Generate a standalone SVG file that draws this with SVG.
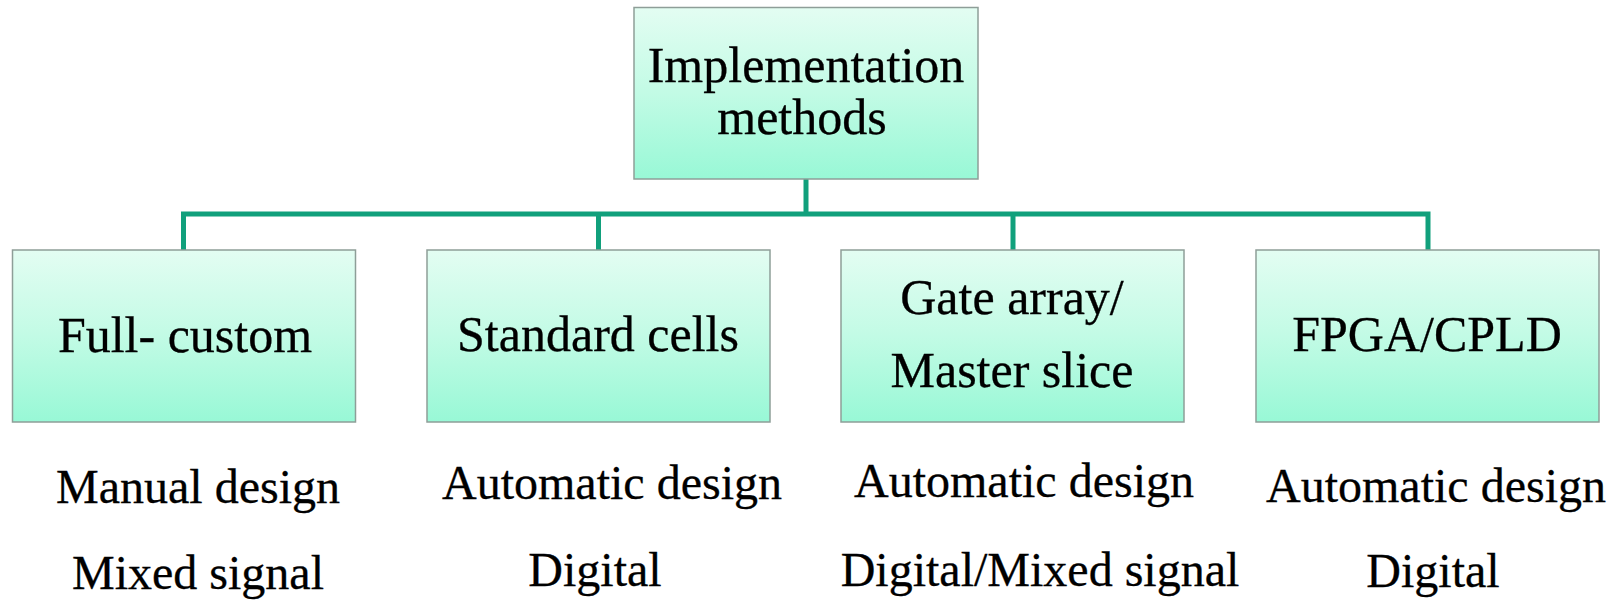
<svg xmlns="http://www.w3.org/2000/svg" width="1617" height="601" viewBox="0 0 1617 601">
  <defs>
    <linearGradient id="boxFill" x1="0" y1="0" x2="0" y2="1">
      <stop offset="0" stop-color="#e3fdf2"/>
      <stop offset="0.5" stop-color="#c2fbe5"/>
      <stop offset="1" stop-color="#98f8d6"/>
    </linearGradient>
  </defs>
  <style>
    .box { fill: url(#boxFill); stroke: #8e9e98; stroke-width: 1.5; }
    text { font-family: 'Liberation Serif', 'Times New Roman', Times, 'DejaVu Serif', serif; fill: #000; stroke: #000; stroke-width: 0.3; text-anchor: middle; }
    .label { font-size: 50px; }
    .note { font-size: 48px; }
    .link { fill: none; stroke: #11a07c; stroke-width: 5; stroke-linecap: butt; stroke-linejoin: miter; }
  </style>
  <rect width="1617" height="601" fill="#ffffff"/>

  <!-- tree connectors -->
  <g id="connectors">
    <path class="link" d="M806 179 V214"/>
    <path class="link" d="M183.5 250 V214 H1428 V250"/>
    <path class="link" d="M598.5 214 V250"/>
    <path class="link" d="M1013 214 V250"/>
  </g>

  <!-- root -->
  <g id="node-root">
    <rect class="box" x="634" y="7.5" width="344" height="171.5"/>
    <text class="label" x="806" y="82">Implementation</text>
    <text class="label" x="802" y="134">methods</text>
  </g>

  <!-- methods -->
  <g id="node-full-custom">
    <rect class="box" x="12.5" y="250" width="343" height="172"/>
    <text class="label" x="185" y="352">Full- custom</text>
    <text class="note" x="198" y="503">Manual design</text>
    <text class="note" x="198" y="589">Mixed signal</text>
  </g>

  <g id="node-standard-cells">
    <rect class="box" x="427" y="250" width="343" height="172"/>
    <text class="label" x="598" y="351">Standard cells</text>
    <text class="note" x="612" y="499">Automatic design</text>
    <text class="note" x="595" y="586">Digital</text>
  </g>

  <g id="node-gate-array">
    <rect class="box" x="841" y="250" width="343" height="172"/>
    <text class="label" x="1012" y="314">Gate array/</text>
    <text class="label" x="1012" y="387">Master slice</text>
    <text class="note" x="1024" y="497">Automatic design</text>
    <text class="note" x="1040" y="586">Digital/Mixed signal</text>
  </g>

  <g id="node-fpga">
    <rect class="box" x="1256" y="250" width="343" height="172"/>
    <text class="label" x="1427" y="351">FPGA/CPLD</text>
    <text class="note" x="1436" y="502">Automatic design</text>
    <text class="note" x="1433" y="587">Digital</text>
  </g>
</svg>
